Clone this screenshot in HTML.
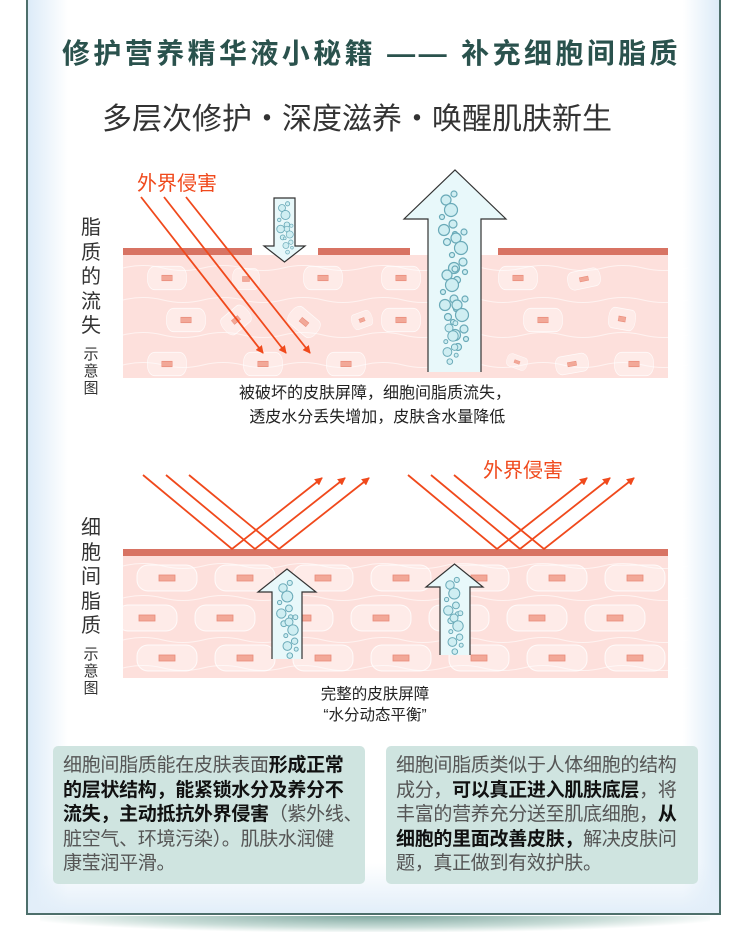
<!DOCTYPE html>
<html><head><meta charset="utf-8"><style>
*{margin:0;padding:0}
body{width:750px;height:943px;background:#fff;position:relative;overflow:hidden;font-family:"Liberation Sans","Noto Sans CJK SC",sans-serif}
.frame{position:absolute;left:26px;top:-2px;width:695px;height:917px;border:2px solid #4d6f6b;background:linear-gradient(90deg,#dcebf8 0,#fff 40px,#fff 655px,#dcebf8 100%);box-sizing:border-box}
.frame:before{content:"";position:absolute;left:0;right:0;bottom:0;height:50px;background:linear-gradient(0deg,#e2eef9,rgba(255,255,255,0))}
.shadow{position:absolute;left:40px;top:916px;width:670px;height:16px;background:radial-gradient(ellipse at 50% 0,#7fa79f 0,#c9ddd8 50%,rgba(255,255,255,0) 75%)}
.t{position:absolute;white-space:nowrap}
.box{position:absolute;top:746px;width:312px;height:138px;background:#cfe4e0;border-radius:5px;font-size:19px;line-height:24.5px;color:#555;padding:8px 0 0 10px;box-sizing:border-box;letter-spacing:-0.3px;white-space:nowrap;overflow:hidden}
.box b{color:#111}
.side{position:absolute;left:79px;width:24px;font-size:20px;line-height:24.5px;color:#333;text-align:center}
.side2{position:absolute;left:82px;width:18px;font-size:15px;line-height:17px;color:#333;text-align:center}
</style></head><body>
<div class="shadow"></div>
<div class="frame"></div>
<div class="t" style="left:62px;top:32px;font-size:28px;color:#2a524d;font-weight:bold;letter-spacing:3.4px">修护营养精华液小秘籍 —— 补充细胞间脂质</div>
<div class="t" style="left:102px;top:94px;font-size:30px;color:#333">多层次修护・深度滋养・唤醒肌肤新生</div>

<div class="side" style="top:216px">脂<br>质<br>的<br>流<br>失</div>
<div class="side2" style="top:346px">示<br>意<br>图</div>
<div class="side" style="top:516px">细<br>胞<br>间<br>脂<br>质</div>
<div class="side2" style="top:646px">示<br>意<br>图</div>

<svg width="750" height="943" style="position:absolute;left:0;top:0">
<defs>
<marker id="ah" markerWidth="8" markerHeight="8" refX="7" refY="4" orient="auto" markerUnits="userSpaceOnUse" viewBox="0 0 8 8"><path d="M0,0 L8,4 L0,8 Z" fill="#f0491c"/></marker>
<g id="cell"><rect x="-30" y="-13" width="60" height="26" rx="11" fill="#fff" fill-opacity="0.35" stroke="#fff" stroke-opacity="0.8"/><rect x="-8" y="-3" width="16" height="6" fill="#f2a898" stroke="#e98b79" stroke-width="0.8"/></g>
<g id="bub" fill="#cfeef2" stroke="#6aaab8" stroke-width="1.2">
<circle cx="0" cy="0" r="5"/><circle cx="8" cy="-6" r="3"/><circle cx="5" cy="10" r="6.5"/><circle cx="-4" cy="17" r="2.5"/><circle cx="7" cy="24" r="4"/><circle cx="-2" cy="30" r="5.5"/><circle cx="9" cy="34" r="2.5"/><circle cx="1" cy="42" r="3.5"/>
</g>
</defs>
<rect x="123" y="255" width="545" height="123" fill="#fde0dc"/>
<g stroke="#fff" stroke-opacity="0.6" fill="none" stroke-width="1">
<path d="M123,268 q20,-5 40,0 t40,0 t40,0 t40,0 t40,0 t40,0 t40,0 t40,0 t40,0 t40,0 t40,0 t40,0 t40,0 t45,0"/>
<path d="M123,300 q20,-5 40,0 t40,0 t40,0 t40,0 t40,0 t40,0 t40,0 t40,0 t40,0 t40,0 t40,0 t40,0 t40,0 t45,0"/>
<path d="M123,335 q20,-5 40,0 t40,0 t40,0 t40,0 t40,0 t40,0 t40,0 t40,0 t40,0 t40,0 t40,0 t40,0 t40,0 t45,0"/>
<path d="M123,365 q20,-5 40,0 t40,0 t40,0 t40,0 t40,0 t40,0 t40,0 t40,0 t40,0 t40,0 t40,0 t40,0 t40,0 t45,0"/>
</g>
<use href="#cell" transform="translate(167,278) scale(0.65,0.9)"/>
<use href="#cell" transform="translate(246,279) scale(0.45,0.8)"/>
<use href="#cell" transform="translate(323,278) scale(0.65,0.9)"/>
<use href="#cell" transform="translate(401,278) scale(0.65,0.9)"/>
<use href="#cell" transform="translate(518,278) scale(0.65,0.9)"/>
<use href="#cell" transform="translate(584,279) rotate(-12) scale(0.55,0.7)"/>
<use href="#cell" transform="translate(186,320) scale(0.65,0.9)"/>
<use href="#cell" transform="translate(236,320) rotate(-40) scale(0.5,0.8)"/>
<use href="#cell" transform="translate(304,322) rotate(40) scale(0.55,0.8)"/>
<use href="#cell" transform="translate(362,320) rotate(-20) scale(0.35,0.6)"/>
<use href="#cell" transform="translate(401,320) scale(0.65,0.9)"/>
<use href="#cell" transform="translate(543,320) scale(0.65,0.9)"/>
<use href="#cell" transform="translate(622,319) rotate(10) scale(0.45,0.8)"/>
<use href="#cell" transform="translate(167,364) scale(0.65,0.9)"/>
<use href="#cell" transform="translate(263,364) scale(0.65,0.9)"/>
<use href="#cell" transform="translate(346,364) scale(0.65,0.9)"/>
<use href="#cell" transform="translate(517,362) rotate(20) scale(0.35,0.5)"/>
<use href="#cell" transform="translate(572,364) rotate(-10) scale(0.55,0.7)"/>
<use href="#cell" transform="translate(634,364) scale(0.65,0.9)"/>
<rect x="123" y="248" width="129" height="7" fill="#d87363"/>
<rect x="318" y="248" width="92" height="7" fill="#d87363"/>
<rect x="498" y="248" width="170" height="7" fill="#d87363"/>
<g stroke="#f0491c" stroke-width="1.8" marker-end="url(#ah)">
<line x1="141" y1="197" x2="263" y2="353"/><line x1="164" y1="197" x2="286" y2="353"/><line x1="186" y1="197" x2="310" y2="353"/>
</g>
<path d="M274,198 H295 V246 H305 L284.5,262 L264,246 H274 Z" fill="#e8f8fa" stroke="#333" stroke-width="1.2"/>
<use href="#bub" transform="translate(282,208) scale(0.7)"/>
<use href="#bub" transform="translate(287,229) scale(0.55)"/>
<path d="M428,372 V219 H404 L455,170 L506,219 H481 V372" fill="#e8f8fa" stroke="#333" stroke-width="1.2"/>
<use href="#bub" transform="translate(446,200)"/>
<use href="#bub" transform="translate(456,238)"/>
<use href="#bub" transform="translate(447,275)"/>
<use href="#bub" transform="translate(457,305)"/>
<use href="#bub" transform="translate(449,328) scale(0.8)"/>

<rect x="123" y="556" width="545" height="122" fill="#fde0dc"/>
<g stroke="#fff" stroke-opacity="0.6" fill="none" stroke-width="1">
<path d="M123,566 q20,-5 40,0 t40,0 t40,0 t40,0 t40,0 t40,0 t40,0 t40,0 t40,0 t40,0 t40,0 t40,0 t40,0 t45,0"/>
<path d="M123,598 q20,-5 40,0 t40,0 t40,0 t40,0 t40,0 t40,0 t40,0 t40,0 t40,0 t40,0 t40,0 t40,0 t40,0 t45,0"/>
<path d="M123,640 q20,-5 40,0 t40,0 t40,0 t40,0 t40,0 t40,0 t40,0 t40,0 t40,0 t40,0 t40,0 t40,0 t40,0 t45,0"/>
<path d="M123,668 q20,-5 40,0 t40,0 t40,0 t40,0 t40,0 t40,0 t40,0 t40,0 t40,0 t40,0 t40,0 t40,0 t40,0 t45,0"/>
</g>
<g>
<use href="#cell" transform="translate(167,578)"/><use href="#cell" transform="translate(245,578)"/><use href="#cell" transform="translate(323,578)"/><use href="#cell" transform="translate(401,578)"/><use href="#cell" transform="translate(479,578)"/><use href="#cell" transform="translate(557,578)"/><use href="#cell" transform="translate(635,578)"/>
<use href="#cell" transform="translate(147,618)"/><use href="#cell" transform="translate(225,618)"/><use href="#cell" transform="translate(303,618)"/><use href="#cell" transform="translate(381,618)"/><use href="#cell" transform="translate(459,618)"/><use href="#cell" transform="translate(537,618)"/><use href="#cell" transform="translate(615,618)"/>
<use href="#cell" transform="translate(167,658)"/><use href="#cell" transform="translate(245,658)"/><use href="#cell" transform="translate(323,658)"/><use href="#cell" transform="translate(401,658)"/><use href="#cell" transform="translate(479,658)"/><use href="#cell" transform="translate(557,658)"/><use href="#cell" transform="translate(635,658)"/>
</g>
<rect x="123" y="549" width="545" height="7" fill="#d87363"/>
<g stroke="#f0491c" stroke-width="1.8" fill="none" marker-end="url(#ah)">
<polyline points="143,475 232,549 322,478"/><polyline points="166,475 255,549 345,478"/><polyline points="189,475 279,549 369,478"/>
<polyline points="408,475 497,549 587,478"/><polyline points="431,475 520,549 610,478"/><polyline points="454,475 544,549 634,478"/>
</g>
<path d="M272,659 V592 H258 L287,569 L316,592 H302 V659" fill="#e8f8fa" stroke="#333" stroke-width="1.2"/>
<use href="#bub" transform="translate(283,588) scale(0.85)"/>
<use href="#bub" transform="translate(289,622) scale(0.8)"/>
<path d="M440,655 V587 H426 L454.5,564 L483,587 H470 V655" fill="#e8f8fa" stroke="#333" stroke-width="1.2"/>
<use href="#bub" transform="translate(450,585) scale(0.85)"/>
<use href="#bub" transform="translate(454,618) scale(0.8)"/>
</svg>

<div class="t" style="left:137px;top:167px;font-size:20px;color:#f0491c">外界侵害</div>
<div class="t" style="left:483px;top:454px;font-size:20px;color:#f0491c">外界侵害</div>
<div class="t" style="left:0;width:750px;top:382px;text-align:center;font-size:16px;line-height:24px;color:#222">被破坏的皮肤屏障，细胞间脂质流失，<br>&nbsp;透皮水分丢失增加，皮肤含水量降低</div>
<div class="t" style="left:0;width:750px;top:684px;text-align:center;font-size:15.5px;line-height:21px;color:#222">完整的皮肤屏障<br>“水分动态平衡”</div>

<div class="box" style="left:53px">细胞间脂质能在皮肤表面<b>形成正常</b><br><b>的层状结构，能紧锁水分及养分不</b><br><b>流失，主动抵抗外界侵害</b>（紫外线、<br>脏空气、环境污染）。肌肤水润健<br>康莹润平滑。</div>
<div class="box" style="left:386px">细胞间脂质类似于人体细胞的结构<br>成分，<b>可以真正进入肌肤底层</b>，将<br>丰富的营养充分送至肌底细胞，<b>从</b><br><b>细胞的里面改善皮肤，</b>解决皮肤问<br>题，真正做到有效护肤。</div>
</body></html>
